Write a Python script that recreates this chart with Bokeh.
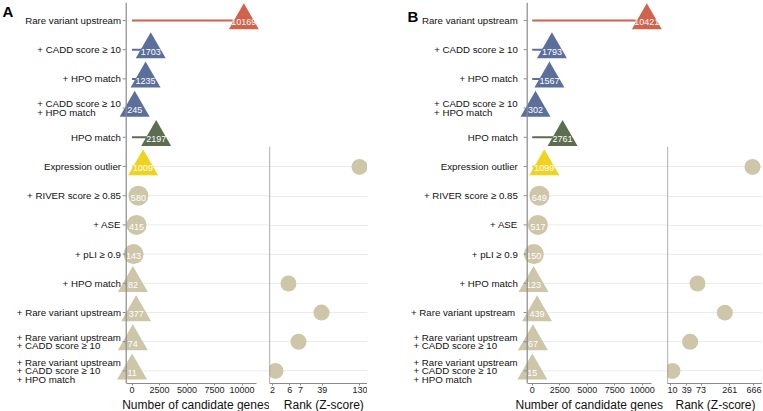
from bokeh.plotting import figure
from bokeh.layouts import row, column, Spacer
from bokeh.models import (Range1d, FixedTicker, NumeralTickFormatter, Span, Label,
                          Grid, ColumnDataSource, Title)
from bokeh.core.properties import value
from bokeh.embed import file_html
from bokeh.resources import INLINE

# ---------------- data ----------------
labels_a = ["Rare variant upstream", "+ CADD score \u2265 10", "+ HPO match",
            "+ CADD score \u2265 10\n+ HPO match", "HPO match", "Expression outlier",
            "+ RIVER score \u2265 0.85", "+ ASE", "+ pLI \u2265 0.9", "+ HPO match",
            "+ Rare variant upstream", "+ Rare variant upstream\n+ CADD score \u2265 10",
            "+ Rare variant upstream\n+ CADD score \u2265 10\n+ HPO match"]
labels_b = ["Rare variant upstream", "+ CADD score \u2265 10", "+ HPO match",
            "+ CADD score \u2265 10\n+ HPO match", "HPO match", "Expression outlier",
            "+ RIVER score \u2265 0.85", "+ ASE", "+ pLI \u2265 0.9", "+ HPO match",
            "+ Rare variant  upstream", "+ Rare variant upstream\n+ CADD score \u2265 10",
            "+ Rare variant upstream\n+ CADD score \u2265 10\n+ HPO match"]
genes_a = [10169, 1703, 1235, 245, 2197, 1009, 580, 415, 143, 82, 377, 74, 11]
genes_b = [10421, 1793, 1567, 302, 2761, 1099, 649, 517, 150, 123, 439, 67, 15]
shapes = ["triangle"] * 6 + ["circle"] * 3 + ["triangle"] * 4
groups = ["rare", "rare_filt", "rare_filt", "rare_filt", "hpo", "outlier",
          "outlier_filt", "outlier_filt", "outlier_filt", "outlier_filt",
          "outlier_filt", "outlier_filt", "outlier_filt"]
rank_rows = [5, 9, 10, 11, 12]
rank_a = [130, 6, 39, 7, 2]
zscore_a = [11.0, 3.9, 7.2, 4.9, 2.6]
rank_ticks_a = [2, 6, 7, 39, 130]
rank_tick_z_a = [2.29, 4.03, 5.09, 7.27, 11.04]
rank_b = [666, 73, 261, 39, 10]
zscore_b = [10.5, 5.0, 7.73, 4.26, 2.5]
rank_ticks_b = [10, 39, 73, 261, 666]
rank_tick_z_b = [2.25, 3.93, 5.35, 8.22, 10.64]
gene_ticks = [0, 2500, 5000, 7500, 10000]

# ---------------- style ----------------
palette = {"rare": "#D0634B", "rare_filt": "#5B6E9C", "hpo": "#5C6E4F",
           "outlier": "#EFD31F", "outlier_filt": "#CEC6A8"}
FONT = "Liberation Sans"
GRID = "#EBEBEB"
AXC = "#8A8A8A"
PPU = 0.011              # px per gene
S = 29.2                 # px per row
TOP = 2                  # px above main frame
Y_TOP_MAIN = -0.616
FH_MAIN = 381
Y_BOT = Y_TOP_MAIN + FH_MAIN / S
Y_TOP_RANK = 4.3
FH_RANK = round((Y_BOT - Y_TOP_RANK) * S)
LABEL_PX = 9.7

HELV = {' ': 278, '+': 584, '\u2265': 549, '0': 556, '1': 556, '.': 278, '5': 556,
        '8': 556, '9': 556, 'A': 667, 'C': 722, 'D': 722, 'E': 667, 'H': 722,
        'I': 278, 'L': 556, 'M': 833, 'O': 778, 'P': 667, 'R': 722, 'S': 667,
        'V': 667, 'a': 556, 'c': 500, 'd': 556, 'e': 556, 'h': 556, 'i': 222,
        'l': 222, 'm': 833, 'n': 556, 'o': 556, 'p': 556, 'r': 333, 's': 500,
        't': 278, 'u': 556, 'v': 500, 'x': 500, 'g': 556}


def text_w(s, size):
    return sum(HELV.get(c, 556) for c in s) * size / 1000.0


def style_xaxis(p, ax, title, title_left_px):
    ax.axis_line_color = AXC
    ax.major_tick_line_color = AXC
    ax.minor_tick_line_color = None
    ax.major_tick_out = 2
    ax.major_tick_in = 0
    ax.major_label_standoff = 1
    ax.major_label_text_font = FONT
    ax.major_label_text_font_size = "9px"
    ax.major_label_text_color = "#222222"
    ax.axis_label = None
    p.add_layout(Title(text=title, align="left", offset=title_left_px, standoff=0,
                       text_font=FONT, text_font_size="12px",
                       text_font_style="normal", text_color="#111111"), "below")


def base_fig(frame_w, frame_h, xr, yr, top):
    p = figure(frame_width=frame_w, frame_height=frame_h, x_range=xr, y_range=yr,
               output_backend="svg", toolbar_location=None, y_axis_location=None,
               min_border_left=0, min_border_right=0, min_border_top=top,
               min_border_bottom=0, outline_line_color=None)
    p.xgrid.visible = False
    p.ygrid.visible = False
    return p


def main_panel(tag, labels, genes, frame_w, zero_px, axis_px, label_right_px,
               axis_end_px, title_left_px, tag_dx, tag_dy):
    upp = 1.0 / PPU
    x0 = -zero_px * upp
    x1 = x0 + frame_w * upp
    p = base_fig(frame_w, FH_MAIN, Range1d(x0, x1), Range1d(Y_BOT, Y_TOP_MAIN), TOP)
    rows = list(range(len(genes)))
    colors = [palette[g] for g in groups]
    sizes = [30 if s == "triangle" else 20 for s in shapes]

    # light row guides for the outlier block
    grid_rows = rows[5:]
    p.segment(x0=[0] * len(grid_rows), x1=[x1] * len(grid_rows), y0=grid_rows,
              y1=grid_rows, line_color=GRID, line_width=1)

    src = ColumnDataSource(dict(x=genes, y=rows, c=colors, m=shapes, s=sizes,
                                t=[str(v) for v in genes],
                                z=[0] * len(genes)))
    p.segment(x0="z", y0="y", x1="x", y1="y", line_color="c", line_width=2,
              source=src)
    p.scatter(x="x", y="y", marker="m", size="s", fill_color="c",
              line_color=None, source=src)
    p.text(x="x", y="y", text="t", text_align="center", text_baseline="middle",
           y_offset=2, text_color="white", text_font=value(FONT),
           text_font_size="9px", source=src)

    # row labels
    lr = x0 + label_right_px * upp
    single = [(l, r) for r, l in enumerate(labels) if "\n" not in l]
    multi = [(l, r) for r, l in enumerate(labels) if "\n" in l]
    p.text(x=[lr] * len(single), y=[r for _, r in single],
           text=[l for l, _ in single], text_align="right", text_baseline="middle",
           text_font=value(FONT), text_font_size=f"{LABEL_PX}px",
           text_color="#111111")
    p.text(x=[lr - text_w(l.split("\n")[0], LABEL_PX) * upp for l, _ in multi],
           y=[r for _, r in multi], text=[l for l, _ in multi], text_align="left",
           text_baseline="middle", text_font=value(FONT),
           text_font_size=f"{LABEL_PX}px", text_color="#111111",
           text_line_height=0.78)

    axis_x = x0 + axis_px * upp
    p.add_layout(Span(location=axis_x, dimension="height", line_color=AXC,
                      line_width=1.2))
    # small outward row ticks on the category axis
    p.scatter(x=[axis_x - 2.0 * upp] * len(rows), y=rows, marker="dash", size=3,
              line_color=AXC, line_width=1)
    ax = p.xaxis[0]
    ax.ticker = FixedTicker(ticks=gene_ticks)
    ax.formatter = NumeralTickFormatter(format="0")
    ax.bounds = (axis_x, x0 + axis_end_px * upp)
    style_xaxis(p, ax, "Number of candidate genes", title_left_px)

    p.add_layout(Label(x=x0, y=Y_TOP_MAIN, x_offset=tag_dx, y_offset=tag_dy,
                       text=tag, text_font=FONT, text_font_size="15px",
                       text_font_style="bold", text_baseline="top",
                       text_color="#000000"))
    return p


def rank_panel(ranks, zs, ticks, tick_z, frame_w, z0, z1, title_left_px):
    p = base_fig(frame_w, FH_RANK, Range1d(z0, z1), Range1d(Y_BOT, Y_TOP_RANK), 0)
    p.add_layout(Grid(dimension=1, ticker=FixedTicker(ticks=list(range(5, 13))),
                      grid_line_color=GRID, grid_line_width=1))
    p.add_layout(Span(location=z0, dimension="height", line_color="#7A7A7A",
                      line_width=1.2))
    p.scatter(x=zs, y=rank_rows, size=16, fill_color=palette["outlier_filt"],
              line_color=None)
    ax = p.xaxis[0]
    ax.ticker = FixedTicker(ticks=tick_z)
    ax.major_label_overrides = {z: str(r) for z, r in zip(tick_z, ticks)}
    style_xaxis(p, ax, "Rank (Z-score)", title_left_px)
    return p


pa = main_panel("A", labels_a, genes_a, 269, 131.5, 125.7, 120.5, 255.7, 121.7, 2, 0)
ra = rank_panel(rank_a, zscore_a, rank_ticks_a, rank_tick_z_a, 98, 2.0, 11.8, 14.3)
pb = main_panel("B", labels_b, genes_b, 300, 164.7, 159.7, 150.3, 283.7, 148.0, 40, -5)
rb = rank_panel(rank_b, zscore_b, rank_ticks_b, rank_tick_z_b, 95, 2.0, 11.5, 8.0)

sp = TOP + FH_MAIN - FH_RANK
layout = row(pa, column(Spacer(width=98, height=sp), ra),
             pb, column(Spacer(width=95, height=sp), rb))

open("out.html", "w").write(file_html(layout, INLINE))
